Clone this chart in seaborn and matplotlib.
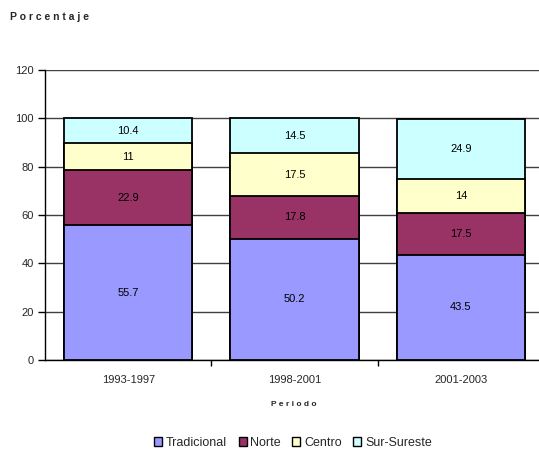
import matplotlib
matplotlib.use("Agg")
import matplotlib.pyplot as plt
import seaborn as sns
import pandas as pd
import numpy as np
from matplotlib.patches import Patch

periods = ["1993-1997", "1998-2001", "2001-2003"]
regions = ["Tradicional", "Norte", "Centro", "Sur-Sureste"]
tradicional = [55.7, 50.2, 43.5]
norte = [22.9, 17.8, 17.5]
centro = [11, 17.5, 14]
sur_sureste = [10.4, 14.5, 24.9]
colors = ["#9999FF", "#993366", "#FFFFCC", "#CCFFFF"]

series = [tradicional, norte, centro, sur_sureste]

sns.set_theme(style="white")
plt.rcParams["font.family"] = ["Liberation Sans", "DejaVu Sans"]

fig = plt.figure(figsize=(5.39, 4.5), dpi=100)
ax = fig.add_axes([45 / 539, 90 / 450, (539 - 45) / 539, 290 / 450])

# stacked bars: draw cumulative totals from the top layer down
cum = np.cumsum(np.array(series), axis=0)
for i in range(len(regions) - 1, -1, -1):
    df = pd.DataFrame({"periodo": periods, "valor": cum[i]})
    sns.barplot(data=df, x="periodo", y="valor", color=colors[i], width=0.77,
                edgecolor="black", linewidth=1.3, saturation=1, ax=ax, zorder=3)

# segment labels
bottoms = np.zeros(len(periods))
for vals in series:
    for j, v in enumerate(vals):
        ax.text(j, bottoms[j] + v / 2, f"{v:g}", ha="center", va="center",
                fontsize=8, color="black", zorder=5)
    bottoms += np.array(vals)

ax.set_ylim(0, 120)
ax.set_xlim(-0.5, 2.47)
ax.set_yticks(range(0, 121, 20))
ax.yaxis.grid(True, color="#404040", linewidth=1)
ax.set_axisbelow(True)
ax.tick_params(axis="y", left=True, length=5, width=1, color="black",
               labelsize=8, pad=3)
ax.set_xticks(range(len(periods)))
ax.set_xticklabels(periods)
ax.tick_params(axis="x", bottom=False, labelsize=8, pad=5)
ax.set_xticks([0.5, 1.5], minor=True)
ax.tick_params(axis="x", which="minor", bottom=True, length=4, width=1,
               color="black")
ax.set_xlabel("")
ax.set_ylabel("")
for s in ["top", "right"]:
    ax.spines[s].set_visible(False)
for s in ["left", "bottom"]:
    ax.spines[s].set_color("black")
    ax.spines[s].set_linewidth(1)

fig.text(10 / 539, 1 - 17 / 450, " ".join("Porcentaje"), fontsize=7.5,
         fontweight="bold", ha="left", va="center")
fig.text(294 / 539, 1 - 404 / 450, " ".join("Periodo"), fontsize=6,
         fontweight="bold", ha="center", va="center")

handles = [Patch(facecolor=c, edgecolor="black", linewidth=1) for c in colors]
fig.legend(handles, regions, loc="center", bbox_to_anchor=(293 / 539, 1 - 443 / 450),
           ncol=4, frameon=False, fontsize=9, handlelength=0.65, handleheight=0.65,
           handletextpad=0.3, columnspacing=0.9, borderpad=0.2)

fig.savefig("out.png", dpi=100)
